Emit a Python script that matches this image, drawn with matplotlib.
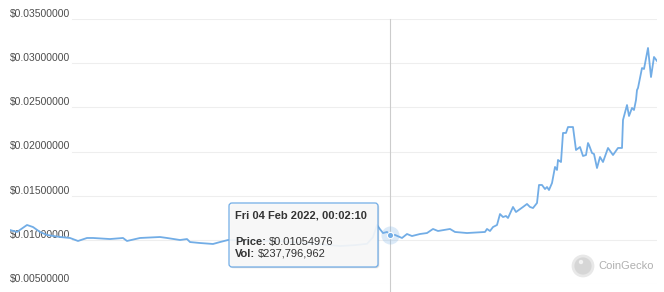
import matplotlib
matplotlib.use("Agg")
import matplotlib.pyplot as plt
import matplotlib.transforms as mtransforms
from matplotlib.patches import FancyBboxPatch, Circle
import pandas as pd

plt.rcParams['font.family'] = ['Liberation Sans', 'DejaVu Sans']

# Price history (days from start date, price in USD)
start_date = pd.Timestamp('2021-01-20')
days = [0, 7, 17, 23, 30, 37, 50, 60, 68, 77, 83, 100, 113, 117, 130, 150, 157,
        170, 177, 180, 190, 203, 210, 218, 240, 270, 300, 330, 345, 357, 363,
        367, 370, 373, 377, 380, 385, 392, 397, 402, 410, 417, 423, 428, 440,
        445, 457, 475, 477, 480, 483, 487, 490, 493, 496, 498, 503, 506, 513,
        517, 520, 523, 527, 529, 532, 535, 537, 539, 542, 545, 547, 548, 551,
        553, 556, 558, 562, 563, 566, 570, 573, 576, 578, 579, 582, 584, 587,
        590, 593, 598, 603, 608, 612, 613, 617, 619, 622, 624, 626, 627, 628,
        632, 634, 638, 641, 644, 647]
price = [0.01111, 0.01089, 0.01168, 0.01145, 0.01089, 0.01055, 0.01032, 0.01021,
         0.00987, 0.01021, 0.01021, 0.01009, 0.01021, 0.00987, 0.01021, 0.01032,
         0.01021, 0.00998, 0.01009, 0.00975, 0.00964, 0.00953, 0.00975, 0.00998,
         0.00990, 0.00985, 0.00960, 0.00930, 0.00940, 0.00955, 0.01030, 0.01168,
         0.01120, 0.01077, 0.01089, 0.01055, 0.01055, 0.01021, 0.01066, 0.01043,
         0.01066, 0.01077, 0.01123, 0.01100, 0.01123, 0.01089, 0.01077, 0.01089,
         0.01123, 0.01100, 0.01145, 0.01168, 0.01292, 0.01258, 0.01270, 0.01247,
         0.01372, 0.01315, 0.01372, 0.01406, 0.01372, 0.01360, 0.01417, 0.01621,
         0.01621, 0.01575, 0.01598, 0.01564, 0.01643, 0.01825, 0.01791, 0.01904,
         0.01881, 0.02210, 0.02210, 0.02277, 0.02277, 0.02277, 0.02017, 0.02051,
         0.01949, 0.01960, 0.02096, 0.02074, 0.01983, 0.01972, 0.01813, 0.01938,
         0.01881, 0.02040, 0.01960, 0.02040, 0.02040, 0.02357, 0.02526, 0.02402,
         0.02493, 0.02470, 0.02583, 0.02696, 0.02719, 0.02945, 0.02934, 0.03172,
         0.02843, 0.03070, 0.03025]
dates = [start_date + pd.Timedelta(days=d) for d in days]

y_ticks = [0.005, 0.010, 0.015, 0.020, 0.025, 0.030, 0.035]
y_labels = ['$%.8f' % v for v in y_ticks]

hover_date = pd.Timestamp('2022-02-04')
hover_price = 0.01054976
hover_title = 'Fri 04 Feb 2022, 00:02:10'
hover_vol = '$237,796,962'

line_color = '#72ade6'
W, H = 664, 292

fig = plt.figure(figsize=(W / 100, H / 100), dpi=100)
ax = fig.add_axes([10 / W, 8 / H, 647 / W, 265 / H])
ax.set_xlim(dates[0], dates[-1])
ax.set_ylim(0.005, 0.035)
ax.axis('off')

# grid lines and y labels
for v, lab in zip(y_ticks, y_labels):
    ax.axhline(v, xmin=62 / 647, xmax=1.0, color='#eeeeee', lw=0.8, zorder=0)
    tr = mtransforms.offset_copy(ax.get_yaxis_transform(), fig=fig, x=0, y=5, units='dots')
    ax.text(0, v, lab, transform=tr, ha='left', va='center', fontsize=7.5,
            color='#4d4d4d', zorder=1)

ax.plot(dates, price, color=line_color, lw=1.3, zorder=3, solid_joinstyle='round')

# crosshair + hover marker
ax.axvline(hover_date, ymin=-0.035, ymax=1.0, color='#cccccc', lw=0.8, clip_on=False, zorder=2)
ax.plot([hover_date], [hover_price], 'o', ms=13, color=line_color, alpha=0.25, mew=0, zorder=4)
ax.plot([hover_date], [hover_price], 'o', ms=4.5, color=line_color, mew=0.8, mec='white', zorder=5)

# tooltip
px = mtransforms.IdentityTransform()
for off, a in [(1.5, 0.06), (1.0, 0.08)]:
    fig.add_artist(FancyBboxPatch((229 + off, H - 267 - off), 149, 64,
                                  boxstyle='round,pad=0,rounding_size=3', transform=px,
                                  facecolor='black', alpha=a, edgecolor='none', zorder=5))
box = FancyBboxPatch((229, H - 267), 149, 64, boxstyle='round,pad=0,rounding_size=3',
                     transform=px, facecolor='#fbfbfb', alpha=0.9, edgecolor='none', zorder=6)
fig.add_artist(box)
border = FancyBboxPatch((229, H - 267), 149, 64, boxstyle='round,pad=0,rounding_size=3',
                        transform=px, facecolor='none', edgecolor=line_color, lw=0.9, zorder=7)
fig.add_artist(border)

fig.text(235 / W, 1 - 215 / H, hover_title, fontsize=8, fontweight='bold',
         color='#333333', va='center', zorder=8)
renderer = fig.canvas.get_renderer()
for row_y, key, val in [(242, 'Price:', '$%.8f' % hover_price), (254, 'Vol:', hover_vol)]:
    t = fig.text(235 / W, 1 - row_y / H, key, fontsize=8, fontweight='bold',
                 color='#333333', va='center', zorder=8)
    bb = t.get_window_extent(renderer)
    fig.text((bb.x1 + 3) / W, 1 - row_y / H, val, fontsize=8, color='#333333',
             va='center', zorder=8)

# CoinGecko watermark
fig.add_artist(Circle((583, H - 266), 10, transform=px, facecolor='#d6d6d6',
                      edgecolor='#e8e8e8', lw=2, zorder=2))
fig.add_artist(Circle((581, H - 262), 2.2, transform=px, facecolor='#f2f2f2',
                      edgecolor='none', zorder=3))
fig.text(598 / W, 1 - 266 / H, 'CoinGecko', fontsize=8, color='#b0b0b0', va='center')

fig.savefig('out.png', dpi=100)
